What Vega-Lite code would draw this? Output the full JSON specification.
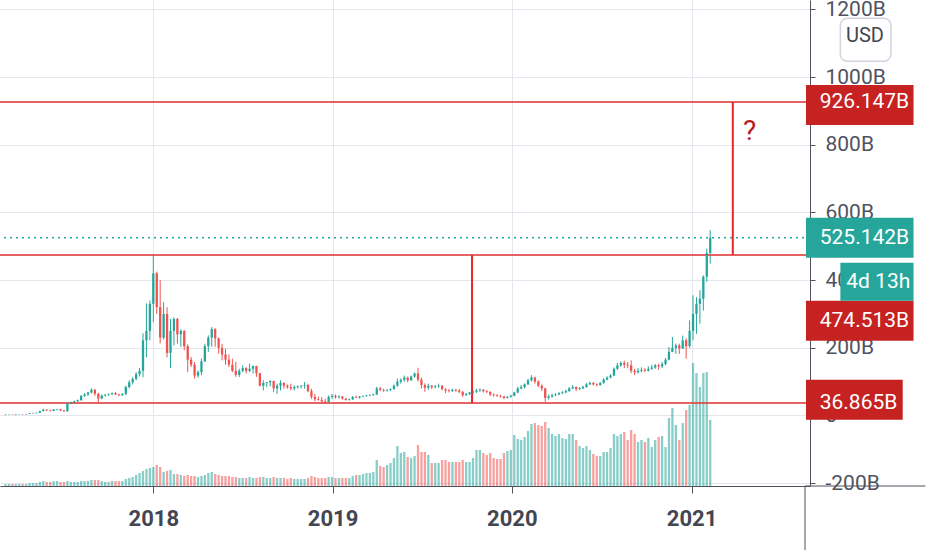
{
  "$schema": "https://vega.github.io/schema/vega-lite/v6.json",
  "width": 810,
  "height": 486,
  "autosize": {"type": "none"},
  "padding": {"left": 0, "top": 0, "right": 122, "bottom": 64},
  "background": "#ffffff",
  "config": {
    "view": {"stroke": null},
    "font": "Roboto, sans-serif"
  },
  "datasets": {
    "candles": [
      {"t":"2017-03-06","o":1.5,"h":3,"l":1,"c":2.5,"vol":2},
      {"t":"2017-03-13","o":2.5,"h":3.5,"l":2,"c":3,"vol":2},
      {"t":"2017-03-20","o":3,"h":3.5,"l":2,"c":2.5,"vol":2},
      {"t":"2017-03-27","o":2.5,"h":4,"l":2,"c":3.5,"vol":2},
      {"t":"2017-04-03","o":3.5,"h":4.5,"l":3,"c":4,"vol":2},
      {"t":"2017-04-10","o":4,"h":4.5,"l":3,"c":3.5,"vol":2},
      {"t":"2017-04-17","o":3.5,"h":5,"l":3,"c":4.5,"vol":2},
      {"t":"2017-04-24","o":4.5,"h":7,"l":4,"c":6.5,"vol":3},
      {"t":"2017-05-01","o":6.5,"h":8,"l":5.5,"c":7,"vol":3},
      {"t":"2017-05-08","o":7,"h":9,"l":6,"c":8,"vol":3},
      {"t":"2017-05-15","o":8,"h":14,"l":7.5,"c":13,"vol":4},
      {"t":"2017-05-22","o":13,"h":20,"l":12,"c":17,"vol":5},
      {"t":"2017-05-29","o":17,"h":19,"l":13,"c":15,"vol":4},
      {"t":"2017-06-05","o":15,"h":17,"l":12,"c":13.5,"vol":4},
      {"t":"2017-06-12","o":13.5,"h":19,"l":13,"c":17.5,"vol":5},
      {"t":"2017-06-19","o":17.5,"h":20,"l":15,"c":18.5,"vol":5},
      {"t":"2017-06-26","o":18.5,"h":19.5,"l":13,"c":15,"vol":4},
      {"t":"2017-07-03","o":15,"h":16.5,"l":11,"c":12.5,"vol":4},
      {"t":"2017-07-10","o":12.5,"h":39,"l":11,"c":36,"vol":5},
      {"t":"2017-07-17","o":36,"h":41,"l":33,"c":39,"vol":4},
      {"t":"2017-07-24","o":39,"h":44,"l":36,"c":42,"vol":4},
      {"t":"2017-07-31","o":42,"h":47,"l":40,"c":45,"vol":4},
      {"t":"2017-08-07","o":45,"h":60,"l":44,"c":58,"vol":5},
      {"t":"2017-08-14","o":58,"h":66,"l":55,"c":62,"vol":5},
      {"t":"2017-08-21","o":62,"h":70,"l":58,"c":68,"vol":5},
      {"t":"2017-08-28","o":68,"h":80,"l":65,"c":76,"vol":6},
      {"t":"2017-09-04","o":76,"h":78,"l":58,"c":64,"vol":6},
      {"t":"2017-09-11","o":64,"h":67,"l":37,"c":50,"vol":6},
      {"t":"2017-09-18","o":50,"h":62,"l":48,"c":59,"vol":5},
      {"t":"2017-09-25","o":59,"h":64,"l":56,"c":61,"vol":4},
      {"t":"2017-10-02","o":61,"h":65,"l":58,"c":63,"vol":4},
      {"t":"2017-10-09","o":63,"h":68,"l":60,"c":66,"vol":5},
      {"t":"2017-10-16","o":66,"h":69,"l":60,"c":62,"vol":5},
      {"t":"2017-10-23","o":62,"h":64,"l":57,"c":60,"vol":5},
      {"t":"2017-10-30","o":60,"h":66,"l":58,"c":64,"vol":5},
      {"t":"2017-11-06","o":64,"h":88,"l":60,"c":84,"vol":7},
      {"t":"2017-11-13","o":84,"h":104,"l":80,"c":98,"vol":8},
      {"t":"2017-11-20","o":98,"h":113,"l":92,"c":108,"vol":9},
      {"t":"2017-11-27","o":108,"h":128,"l":104,"c":122,"vol":11},
      {"t":"2017-12-04","o":122,"h":140,"l":115,"c":132,"vol":13},
      {"t":"2017-12-11","o":132,"h":243,"l":113,"c":222,"vol":15},
      {"t":"2017-12-18","o":222,"h":331,"l":172,"c":250,"vol":17},
      {"t":"2017-12-25","o":250,"h":340,"l":222,"c":330,"vol":18},
      {"t":"2018-01-01","o":330,"h":474.5,"l":276,"c":420,"vol":19},
      {"t":"2018-01-08","o":420,"h":425,"l":300,"c":320,"vol":21},
      {"t":"2018-01-15","o":320,"h":400,"l":213,"c":230,"vol":19},
      {"t":"2018-01-22","o":230,"h":335,"l":225,"c":300,"vol":14},
      {"t":"2018-01-29","o":300,"h":320,"l":172,"c":185,"vol":15},
      {"t":"2018-02-05","o":185,"h":285,"l":140,"c":250,"vol":16},
      {"t":"2018-02-12","o":250,"h":290,"l":207,"c":285,"vol":12},
      {"t":"2018-02-19","o":285,"h":288,"l":212,"c":240,"vol":12},
      {"t":"2018-02-26","o":240,"h":255,"l":203,"c":250,"vol":11},
      {"t":"2018-03-05","o":250,"h":252,"l":193,"c":205,"vol":10},
      {"t":"2018-03-12","o":205,"h":210,"l":128,"c":165,"vol":11},
      {"t":"2018-03-19","o":165,"h":173,"l":143,"c":150,"vol":10},
      {"t":"2018-03-26","o":150,"h":158,"l":109,"c":118,"vol":10},
      {"t":"2018-04-02","o":118,"h":133,"l":112,"c":128,"vol":9},
      {"t":"2018-04-09","o":128,"h":168,"l":119,"c":160,"vol":10},
      {"t":"2018-04-16","o":160,"h":212,"l":158,"c":205,"vol":11},
      {"t":"2018-04-23","o":205,"h":237,"l":188,"c":230,"vol":13},
      {"t":"2018-04-30","o":230,"h":261,"l":203,"c":255,"vol":14},
      {"t":"2018-05-07","o":255,"h":258,"l":203,"c":228,"vol":12},
      {"t":"2018-05-14","o":228,"h":230,"l":183,"c":200,"vol":11},
      {"t":"2018-05-21","o":200,"h":212,"l":163,"c":180,"vol":10},
      {"t":"2018-05-28","o":180,"h":197,"l":150,"c":165,"vol":10},
      {"t":"2018-06-04","o":165,"h":180,"l":143,"c":150,"vol":10},
      {"t":"2018-06-11","o":150,"h":168,"l":128,"c":132,"vol":9},
      {"t":"2018-06-18","o":132,"h":158,"l":114,"c":120,"vol":9},
      {"t":"2018-06-25","o":120,"h":138,"l":114,"c":132,"vol":8},
      {"t":"2018-07-02","o":132,"h":148,"l":128,"c":140,"vol":8},
      {"t":"2018-07-09","o":140,"h":143,"l":124,"c":132,"vol":8},
      {"t":"2018-07-16","o":132,"h":153,"l":128,"c":138,"vol":9},
      {"t":"2018-07-23","o":138,"h":148,"l":124,"c":146,"vol":8},
      {"t":"2018-07-30","o":146,"h":147,"l":114,"c":125,"vol":8},
      {"t":"2018-08-06","o":125,"h":126,"l":86,"c":88,"vol":9},
      {"t":"2018-08-13","o":88,"h":104,"l":74,"c":96,"vol":9},
      {"t":"2018-08-20","o":96,"h":99,"l":84,"c":98,"vol":8},
      {"t":"2018-08-27","o":98,"h":104,"l":86,"c":102,"vol":8},
      {"t":"2018-09-03","o":102,"h":103,"l":69,"c":80,"vol":9},
      {"t":"2018-09-10","o":80,"h":94,"l":64,"c":88,"vol":8},
      {"t":"2018-09-17","o":88,"h":104,"l":74,"c":96,"vol":8},
      {"t":"2018-09-24","o":96,"h":99,"l":79,"c":88,"vol":8},
      {"t":"2018-10-01","o":88,"h":92,"l":79,"c":84,"vol":7},
      {"t":"2018-10-08","o":84,"h":94,"l":74,"c":80,"vol":8},
      {"t":"2018-10-15","o":80,"h":89,"l":74,"c":84,"vol":7},
      {"t":"2018-10-22","o":84,"h":89,"l":79,"c":86,"vol":7},
      {"t":"2018-10-29","o":86,"h":90,"l":80,"c":88,"vol":7},
      {"t":"2018-11-05","o":88,"h":99,"l":79,"c":90,"vol":7},
      {"t":"2018-11-12","o":90,"h":94,"l":69,"c":72,"vol":8},
      {"t":"2018-11-19","o":72,"h":79,"l":49,"c":55,"vol":10},
      {"t":"2018-11-26","o":55,"h":64,"l":42,"c":48,"vol":9},
      {"t":"2018-12-03","o":48,"h":56,"l":44,"c":46,"vol":8},
      {"t":"2018-12-10","o":46,"h":54,"l":37.5,"c":42,"vol":8},
      {"t":"2018-12-17","o":42,"h":49,"l":36.9,"c":40,"vol":8},
      {"t":"2018-12-24","o":40,"h":59,"l":38,"c":55,"vol":9},
      {"t":"2018-12-31","o":55,"h":64,"l":49,"c":58,"vol":9},
      {"t":"2019-01-07","o":58,"h":62,"l":50,"c":54,"vol":8},
      {"t":"2019-01-14","o":54,"h":60,"l":50,"c":56,"vol":8},
      {"t":"2019-01-21","o":56,"h":57,"l":47,"c":50,"vol":8},
      {"t":"2019-01-28","o":50,"h":52,"l":44,"c":46,"vol":8},
      {"t":"2019-02-04","o":46,"h":50,"l":44,"c":48,"vol":8},
      {"t":"2019-02-11","o":48,"h":57,"l":46,"c":55,"vol":10},
      {"t":"2019-02-18","o":55,"h":59,"l":52,"c":53,"vol":11},
      {"t":"2019-02-25","o":53,"h":58,"l":50,"c":56,"vol":11},
      {"t":"2019-03-04","o":56,"h":59,"l":54,"c":57.5,"vol":12},
      {"t":"2019-03-11","o":57.5,"h":61,"l":55,"c":59,"vol":13},
      {"t":"2019-03-18","o":59,"h":62,"l":57,"c":60.5,"vol":13},
      {"t":"2019-03-25","o":60.5,"h":64,"l":58,"c":62.5,"vol":14},
      {"t":"2019-04-01","o":62.5,"h":85,"l":60,"c":80,"vol":26},
      {"t":"2019-04-08","o":80,"h":84,"l":72,"c":76,"vol":20},
      {"t":"2019-04-15","o":76,"h":79,"l":70,"c":74,"vol":19},
      {"t":"2019-04-22","o":74,"h":78,"l":70,"c":75.5,"vol":21},
      {"t":"2019-04-29","o":75.5,"h":80,"l":72,"c":78,"vol":23},
      {"t":"2019-05-06","o":78,"h":92,"l":76,"c":88,"vol":28},
      {"t":"2019-05-13","o":88,"h":109,"l":85,"c":100,"vol":40},
      {"t":"2019-05-20","o":100,"h":110,"l":94,"c":105,"vol":33},
      {"t":"2019-05-27","o":105,"h":118,"l":100,"c":112,"vol":34},
      {"t":"2019-06-03","o":112,"h":115,"l":98,"c":104,"vol":29},
      {"t":"2019-06-10","o":104,"h":118,"l":102,"c":115,"vol":28},
      {"t":"2019-06-17","o":115,"h":127,"l":112,"c":124,"vol":30},
      {"t":"2019-06-24","o":124,"h":141,"l":100,"c":106,"vol":41},
      {"t":"2019-07-01","o":106,"h":112,"l":80,"c":90,"vol":34},
      {"t":"2019-07-08","o":90,"h":95,"l":70,"c":82,"vol":34},
      {"t":"2019-07-15","o":82,"h":94,"l":76,"c":88,"vol":31},
      {"t":"2019-07-22","o":88,"h":90,"l":78,"c":84,"vol":23},
      {"t":"2019-07-29","o":84,"h":90,"l":80,"c":86,"vol":23},
      {"t":"2019-08-05","o":86,"h":94,"l":82,"c":88,"vol":23},
      {"t":"2019-08-12","o":88,"h":90,"l":74,"c":78,"vol":26},
      {"t":"2019-08-19","o":78,"h":80,"l":66,"c":74,"vol":26},
      {"t":"2019-08-26","o":74,"h":78,"l":68,"c":72,"vol":24},
      {"t":"2019-09-02","o":72,"h":79,"l":70,"c":76,"vol":24},
      {"t":"2019-09-09","o":76,"h":79,"l":70,"c":74,"vol":24},
      {"t":"2019-09-16","o":74,"h":78,"l":66,"c":70,"vol":24},
      {"t":"2019-09-23","o":70,"h":72,"l":55,"c":60,"vol":26},
      {"t":"2019-09-30","o":60,"h":66,"l":58,"c":64,"vol":24},
      {"t":"2019-10-07","o":64,"h":70,"l":60,"c":68,"vol":24},
      {"t":"2019-10-14","o":68,"h":74,"l":64,"c":70,"vol":28},
      {"t":"2019-10-21","o":70,"h":79,"l":66,"c":74,"vol":36},
      {"t":"2019-10-28","o":74,"h":80,"l":70,"c":76,"vol":36},
      {"t":"2019-11-04","o":76,"h":78,"l":68,"c":72,"vol":33},
      {"t":"2019-11-11","o":72,"h":75,"l":66,"c":70,"vol":31},
      {"t":"2019-11-18","o":70,"h":71,"l":58,"c":62,"vol":33},
      {"t":"2019-11-25","o":62,"h":65,"l":56,"c":60,"vol":28},
      {"t":"2019-12-02","o":60,"h":63,"l":55,"c":58,"vol":27},
      {"t":"2019-12-09","o":58,"h":61,"l":53,"c":56,"vol":27},
      {"t":"2019-12-16","o":56,"h":58,"l":48,"c":52,"vol":33},
      {"t":"2019-12-23","o":52,"h":57,"l":50,"c":55,"vol":35},
      {"t":"2019-12-30","o":55,"h":62,"l":53,"c":58,"vol":36},
      {"t":"2020-01-06","o":58,"h":70,"l":57,"c":68,"vol":51},
      {"t":"2020-01-13","o":68,"h":85,"l":66,"c":80,"vol":47},
      {"t":"2020-01-20","o":80,"h":90,"l":78,"c":84,"vol":46},
      {"t":"2020-01-27","o":84,"h":95,"l":80,"c":92,"vol":49},
      {"t":"2020-02-03","o":92,"h":108,"l":90,"c":104,"vol":55},
      {"t":"2020-02-10","o":104,"h":119,"l":100,"c":112,"vol":62},
      {"t":"2020-02-17","o":112,"h":115,"l":94,"c":100,"vol":63},
      {"t":"2020-02-24","o":100,"h":104,"l":84,"c":88,"vol":61},
      {"t":"2020-03-02","o":88,"h":92,"l":72,"c":80,"vol":60},
      {"t":"2020-03-09","o":80,"h":82,"l":40,"c":52,"vol":64},
      {"t":"2020-03-16","o":52,"h":62,"l":47,"c":56,"vol":58},
      {"t":"2020-03-23","o":56,"h":64,"l":52,"c":60,"vol":52},
      {"t":"2020-03-30","o":60,"h":66,"l":57,"c":62,"vol":50},
      {"t":"2020-04-06","o":62,"h":69,"l":60,"c":66,"vol":52},
      {"t":"2020-04-13","o":66,"h":72,"l":63,"c":68,"vol":48},
      {"t":"2020-04-20","o":68,"h":76,"l":66,"c":72,"vol":47},
      {"t":"2020-04-27","o":72,"h":84,"l":70,"c":80,"vol":52},
      {"t":"2020-05-04","o":80,"h":90,"l":78,"c":84,"vol":52},
      {"t":"2020-05-11","o":84,"h":86,"l":72,"c":78,"vol":46},
      {"t":"2020-05-18","o":78,"h":84,"l":75,"c":80,"vol":40},
      {"t":"2020-05-25","o":80,"h":88,"l":78,"c":84,"vol":38},
      {"t":"2020-06-01","o":84,"h":96,"l":82,"c":92,"vol":40},
      {"t":"2020-06-08","o":92,"h":100,"l":90,"c":96,"vol":36},
      {"t":"2020-06-15","o":96,"h":99,"l":88,"c":92,"vol":32},
      {"t":"2020-06-22","o":92,"h":95,"l":86,"c":90,"vol":30},
      {"t":"2020-06-29","o":90,"h":99,"l":88,"c":96,"vol":30},
      {"t":"2020-07-06","o":96,"h":110,"l":94,"c":106,"vol":34},
      {"t":"2020-07-13","o":106,"h":116,"l":104,"c":112,"vol":34},
      {"t":"2020-07-20","o":112,"h":122,"l":110,"c":118,"vol":38},
      {"t":"2020-07-27","o":118,"h":142,"l":116,"c":138,"vol":52},
      {"t":"2020-08-03","o":138,"h":155,"l":135,"c":148,"vol":50},
      {"t":"2020-08-10","o":148,"h":160,"l":144,"c":155,"vol":52},
      {"t":"2020-08-17","o":155,"h":162,"l":140,"c":150,"vol":54},
      {"t":"2020-08-24","o":150,"h":158,"l":140,"c":148,"vol":46},
      {"t":"2020-08-31","o":148,"h":163,"l":125,"c":132,"vol":56},
      {"t":"2020-09-07","o":132,"h":138,"l":119,"c":128,"vol":52},
      {"t":"2020-09-14","o":128,"h":140,"l":124,"c":132,"vol":44},
      {"t":"2020-09-21","o":132,"h":142,"l":128,"c":135,"vol":46},
      {"t":"2020-09-28","o":135,"h":140,"l":128,"c":132,"vol":44},
      {"t":"2020-10-05","o":132,"h":145,"l":130,"c":138,"vol":48},
      {"t":"2020-10-12","o":138,"h":150,"l":135,"c":142,"vol":39},
      {"t":"2020-10-19","o":142,"h":152,"l":138,"c":148,"vol":46},
      {"t":"2020-10-26","o":148,"h":153,"l":135,"c":145,"vol":49},
      {"t":"2020-11-02","o":145,"h":158,"l":140,"c":152,"vol":50},
      {"t":"2020-11-09","o":152,"h":170,"l":148,"c":165,"vol":39},
      {"t":"2020-11-16","o":165,"h":202,"l":163,"c":188,"vol":68},
      {"t":"2020-11-23","o":188,"h":232,"l":187,"c":200,"vol":78},
      {"t":"2020-11-30","o":200,"h":212,"l":182,"c":207,"vol":61},
      {"t":"2020-12-07","o":207,"h":212,"l":182,"c":198,"vol":46},
      {"t":"2020-12-14","o":198,"h":236,"l":197,"c":222,"vol":63},
      {"t":"2020-12-21","o":222,"h":228,"l":168,"c":205,"vol":76},
      {"t":"2020-12-28","o":205,"h":281,"l":200,"c":250,"vol":81},
      {"t":"2021-01-04","o":250,"h":355,"l":222,"c":300,"vol":123},
      {"t":"2021-01-11","o":300,"h":350,"l":241,"c":330,"vol":113},
      {"t":"2021-01-18","o":330,"h":370,"l":271,"c":345,"vol":99},
      {"t":"2021-01-25","o":345,"h":414,"l":310,"c":410,"vol":113},
      {"t":"2021-02-01","o":410,"h":493,"l":395,"c":480,"vol":114},
      {"t":"2021-02-08","o":480,"h":547,"l":449,"c":525.142,"vol":66}
    ],
    "levels": [
      {"v": 926.147},
      {"v": 474.513},
      {"v": 36.865}
    ],
    "segments": [
      {"t": "2019-10-12", "from": 36.865, "to": 474.513},
      {"t": "2021-03-26", "from": 474.513, "to": 926.147}
    ],
    "notes": [
      {"t": "2021-04-29", "v": 837, "text": "?"}
    ],
    "labels": [
      {"text": "926.147B", "v": 926.147, "kind": "alert"},
      {"text": "525.142B", "v": 525.142, "kind": "price"},
      {"text": "474.513B", "v": 474.513, "kind": "alert"},
      {"text": "36.865B", "v": 36.865, "kind": "alert"},
      {"text": "4d 13h", "v": 525.142, "kind": "timer"}
    ]
  },
  "layer": [
    {
      "data": {"name": "candles"},
      "mark": {"type": "rule", "strokeWidth": 1},
      "encoding": {
        "x": {
          "field": "t", "type": "temporal",
          "scale": {"type": "utc", "domain": [{"year": 2017, "month": 3, "date": 5, "utc": true}, {"year": 2021, "month": 8, "date": 20, "utc": true}]},
          "axis": {
            "title": null,
            "values": [{"year": 2018, "month": 1, "date": 1, "utc": true}, {"year": 2019, "month": 1, "date": 1, "utc": true}, {"year": 2020, "month": 1, "date": 1, "utc": true}, {"year": 2021, "month": 1, "date": 1, "utc": true}],
            "format": "%Y",
            "grid": true, "gridColor": "#e3e6ec", "domainColor": "#50535e", "tickColor": "#50535e",
            "tickSize": 7, "labelFontSize": 22, "labelFontWeight": "bold", "labelColor": "#434651",
            "labelPadding": 15
          }
        },
        "y": {
          "field": "l", "type": "quantitative",
          "scale": {"domain": [-208.3, 1227.5], "nice": false, "zero": false},
          "axis": {
            "orient": "right", "title": null, "values": [-200, 0, 200, 400, 600, 800, 1000, 1200],
            "labelExpr": "datum.value == 0 ? '0' : datum.value + 'B'",
            "grid": true, "gridColor": "#e3e6ec", "domainColor": "#50535e", "tickColor": "#50535e",
            "tickSize": 5, "labelPadding": 10, "labelFontSize": 21, "labelColor": "#50535e", "zindex": 0
          }
        },
        "y2": {"field": "h"},
        "color": {"condition": {"test": "datum.c >= datum.o", "value": "#26a69a"}, "value": "#ef5350"}
      }
    },
    {
      "data": {"name": "candles"},
      "mark": {"type": "bar", "size": 2.3, "opacity": 0.55},
      "encoding": {
        "x": {"field": "t", "type": "temporal"},
        "y": {"field": "vol", "type": "quantitative", "scale": {"domain": [0, 486], "nice": false}, "axis": null},
        "color": {"condition": {"test": "datum.c >= datum.o", "value": "#26a69a"}, "value": "#ef5350"}
      }
    },
    {
      "data": {"name": "levels"},
      "mark": {"type": "rule", "color": "#e04848", "strokeWidth": 2, "opacity": 0.85},
      "encoding": {
        "y": {"field": "v", "type": "quantitative", "scale": {"domain": [-208.3, 1227.5], "nice": false, "zero": false}, "axis": null}
      }
    },
    {
      "data": {"values": [{"v": 525.142}]},
      "mark": {"type": "rule", "color": "#26a69a", "strokeWidth": 1.5, "strokeDash": [2, 4]},
      "encoding": {
        "y": {"field": "v", "type": "quantitative", "scale": {"domain": [-208.3, 1227.5], "nice": false, "zero": false}, "axis": null}
      }
    },
    {
      "data": {"name": "segments"},
      "mark": {"type": "rule", "color": "#e8252b", "strokeWidth": 2},
      "encoding": {
        "x": {"field": "t", "type": "temporal"},
        "y": {"field": "from", "type": "quantitative", "scale": {"domain": [-208.3, 1227.5], "nice": false, "zero": false}, "axis": null},
        "y2": {"field": "to"}
      }
    },
    {
      "data": {"name": "candles"},
      "mark": {"type": "bar", "size": 2.3},
      "encoding": {
        "x": {"field": "t", "type": "temporal"},
        "y": {"field": "o", "type": "quantitative", "scale": {"domain": [-208.3, 1227.5], "nice": false, "zero": false}, "axis": null},
        "y2": {"field": "c"},
        "color": {"condition": {"test": "datum.c >= datum.o", "value": "#26a69a"}, "value": "#ef5350"}
      }
    },
    {
      "data": {"name": "notes"},
      "mark": {"type": "text", "fontSize": 28, "color": "#b71c1c", "align": "center", "baseline": "middle"},
      "encoding": {
        "x": {"field": "t", "type": "temporal"},
        "y": {"field": "v", "type": "quantitative", "scale": {"domain": [-208.3, 1227.5], "nice": false, "zero": false}, "axis": null},
        "text": {"field": "text"}
      }
    },
    {
      "data": {"name": "labels"},
      "transform": [{"filter": "datum.text == '926.147B' || datum.text == '525.142B'"}],
      "mark": {"type": "bar", "orient": "horizontal", "size": 40},
      "encoding": {
        "x": {"datum": {"year": 2021, "month": 8, "date": 22, "utc": true}, "type": "temporal"},
        "x2": {"datum": {"year": 2022, "month": 3, "date": 29, "utc": true}},
        "y": {"field": "v", "type": "quantitative", "scale": {"domain": [-208.3, 1227.5], "nice": false, "zero": false}, "axis": null},
        "color": {"field": "kind", "type": "nominal", "scale": {"domain": ["alert", "price", "timer"], "range": ["#c62222", "#26a69a", "#26a69a"]}, "legend": null}
      }
    },
    {
      "data": {"name": "labels"},
      "transform": [{"filter": "datum.text == '36.865B'"}],
      "mark": {"type": "bar", "orient": "horizontal", "size": 40},
      "encoding": {
        "x": {"datum": {"year": 2021, "month": 8, "date": 22, "utc": true}, "type": "temporal"},
        "x2": {"datum": {"year": 2022, "month": 3, "date": 7, "utc": true}},
        "y": {"field": "v", "type": "quantitative", "scale": {"domain": [-208.3, 1227.5], "nice": false, "zero": false}, "axis": null},
        "color": {"field": "kind", "type": "nominal", "scale": {"domain": ["alert", "price", "timer"], "range": ["#c62222", "#26a69a", "#26a69a"]}, "legend": null}
      }
    },
    {
      "data": {"name": "labels"},
      "transform": [{"filter": "datum.text == '474.513B'"}],
      "mark": {"type": "bar", "orient": "horizontal", "size": 40, "yOffset": 66},
      "encoding": {
        "x": {"datum": {"year": 2021, "month": 8, "date": 22, "utc": true}, "type": "temporal"},
        "x2": {"datum": {"year": 2022, "month": 3, "date": 29, "utc": true}},
        "y": {"field": "v", "type": "quantitative", "scale": {"domain": [-208.3, 1227.5], "nice": false, "zero": false}, "axis": null},
        "color": {"field": "kind", "type": "nominal", "scale": {"domain": ["alert", "price", "timer"], "range": ["#c62222", "#26a69a", "#26a69a"]}, "legend": null}
      }
    },
    {
      "data": {"name": "labels"},
      "transform": [{"filter": "datum.text == '4d 13h'"}],
      "mark": {"type": "bar", "orient": "horizontal", "size": 38, "yOffset": 44},
      "encoding": {
        "x": {"datum": {"year": 2021, "month": 10, "date": 31, "utc": true}, "type": "temporal"},
        "x2": {"datum": {"year": 2022, "month": 3, "date": 29, "utc": true}},
        "y": {"field": "v", "type": "quantitative", "scale": {"domain": [-208.3, 1227.5], "nice": false, "zero": false}, "axis": null},
        "color": {"field": "kind", "type": "nominal", "scale": {"domain": ["alert", "price", "timer"], "range": ["#c62222", "#26a69a", "#26a69a"]}, "legend": null}
      }
    },
    {
      "data": {"name": "labels"},
      "transform": [{"filter": "datum.text != '474.513B' && datum.text != '4d 13h'"}],
      "mark": {"type": "text", "fontSize": 21, "color": "#ffffff", "align": "left", "baseline": "middle"},
      "encoding": {
        "x": {"datum": {"year": 2021, "month": 9, "date": 19, "utc": true}, "type": "temporal"},
        "y": {"field": "v", "type": "quantitative", "scale": {"domain": [-208.3, 1227.5], "nice": false, "zero": false}, "axis": null},
        "text": {"field": "text"}
      }
    },
    {
      "data": {"name": "labels"},
      "transform": [{"filter": "datum.text == '474.513B'"}],
      "mark": {"type": "text", "fontSize": 21, "color": "#ffffff", "align": "left", "baseline": "middle", "dy": 66},
      "encoding": {
        "x": {"datum": {"year": 2021, "month": 9, "date": 19, "utc": true}, "type": "temporal"},
        "y": {"field": "v", "type": "quantitative", "scale": {"domain": [-208.3, 1227.5], "nice": false, "zero": false}, "axis": null},
        "text": {"field": "text"}
      }
    },
    {
      "data": {"name": "labels"},
      "transform": [{"filter": "datum.text == '4d 13h'"}],
      "mark": {"type": "text", "fontSize": 21, "color": "#ffffff", "align": "left", "baseline": "middle", "dy": 44},
      "encoding": {
        "x": {"datum": {"year": 2021, "month": 11, "date": 12, "utc": true}, "type": "temporal"},
        "y": {"field": "v", "type": "quantitative", "scale": {"domain": [-208.3, 1227.5], "nice": false, "zero": false}, "axis": null},
        "text": {"field": "text"}
      }
    },
    {
      "data": {"values": [{"text": "USD"}]},
      "mark": {"type": "bar", "orient": "horizontal", "size": 43, "color": "#ffffff", "stroke": "#d1d4dc", "strokeWidth": 1.5, "cornerRadius": 7},
      "encoding": {
        "x": {"datum": {"year": 2021, "month": 10, "date": 31, "utc": true}, "type": "temporal"},
        "x2": {"datum": {"year": 2022, "month": 2, "date": 11, "utc": true}},
        "y": {"datum": 1122.6, "type": "quantitative", "scale": {"domain": [-208.3, 1227.5], "nice": false, "zero": false}, "axis": null}
      }
    },
    {
      "data": {"values": [{"text": "USD"}]},
      "mark": {"type": "text", "fontSize": 20, "color": "#434651", "align": "center", "baseline": "middle"},
      "encoding": {
        "x": {"datum": {"year": 2021, "month": 12, "date": 20, "utc": true}, "type": "temporal"},
        "y": {"datum": 1122.6, "type": "quantitative", "scale": {"domain": [-208.3, 1227.5], "nice": false, "zero": false}, "axis": null},
        "text": {"field": "text"}
      }
    },
    {
      "data": {"values": [{"k": "pane"}]},
      "mark": {"type": "rule", "color": "#50535e", "strokeWidth": 1},
      "encoding": {
        "x": {"datum": {"year": 2021, "month": 8, "date": 20, "utc": true}, "type": "temporal"},
        "y": {"datum": -208.3, "type": "quantitative", "scale": {"domain": [-208.3, 1227.5], "nice": false, "zero": false}, "axis": null},
        "y2": {"datum": -397.4}
      }
    },
    {
      "data": {"values": [{"k": "pane"}]},
      "mark": {"type": "rule", "color": "#50535e", "strokeWidth": 1},
      "encoding": {
        "x": {"datum": {"year": 2021, "month": 8, "date": 20, "utc": true}, "type": "temporal"},
        "x2": {"datum": {"year": 2022, "month": 4, "date": 22, "utc": true}},
        "y": {"datum": -208.3, "type": "quantitative", "scale": {"domain": [-208.3, 1227.5], "nice": false, "zero": false}, "axis": null}
      }
    }
  ],
  "resolve": {"scale": {"y": "independent"}}
}
